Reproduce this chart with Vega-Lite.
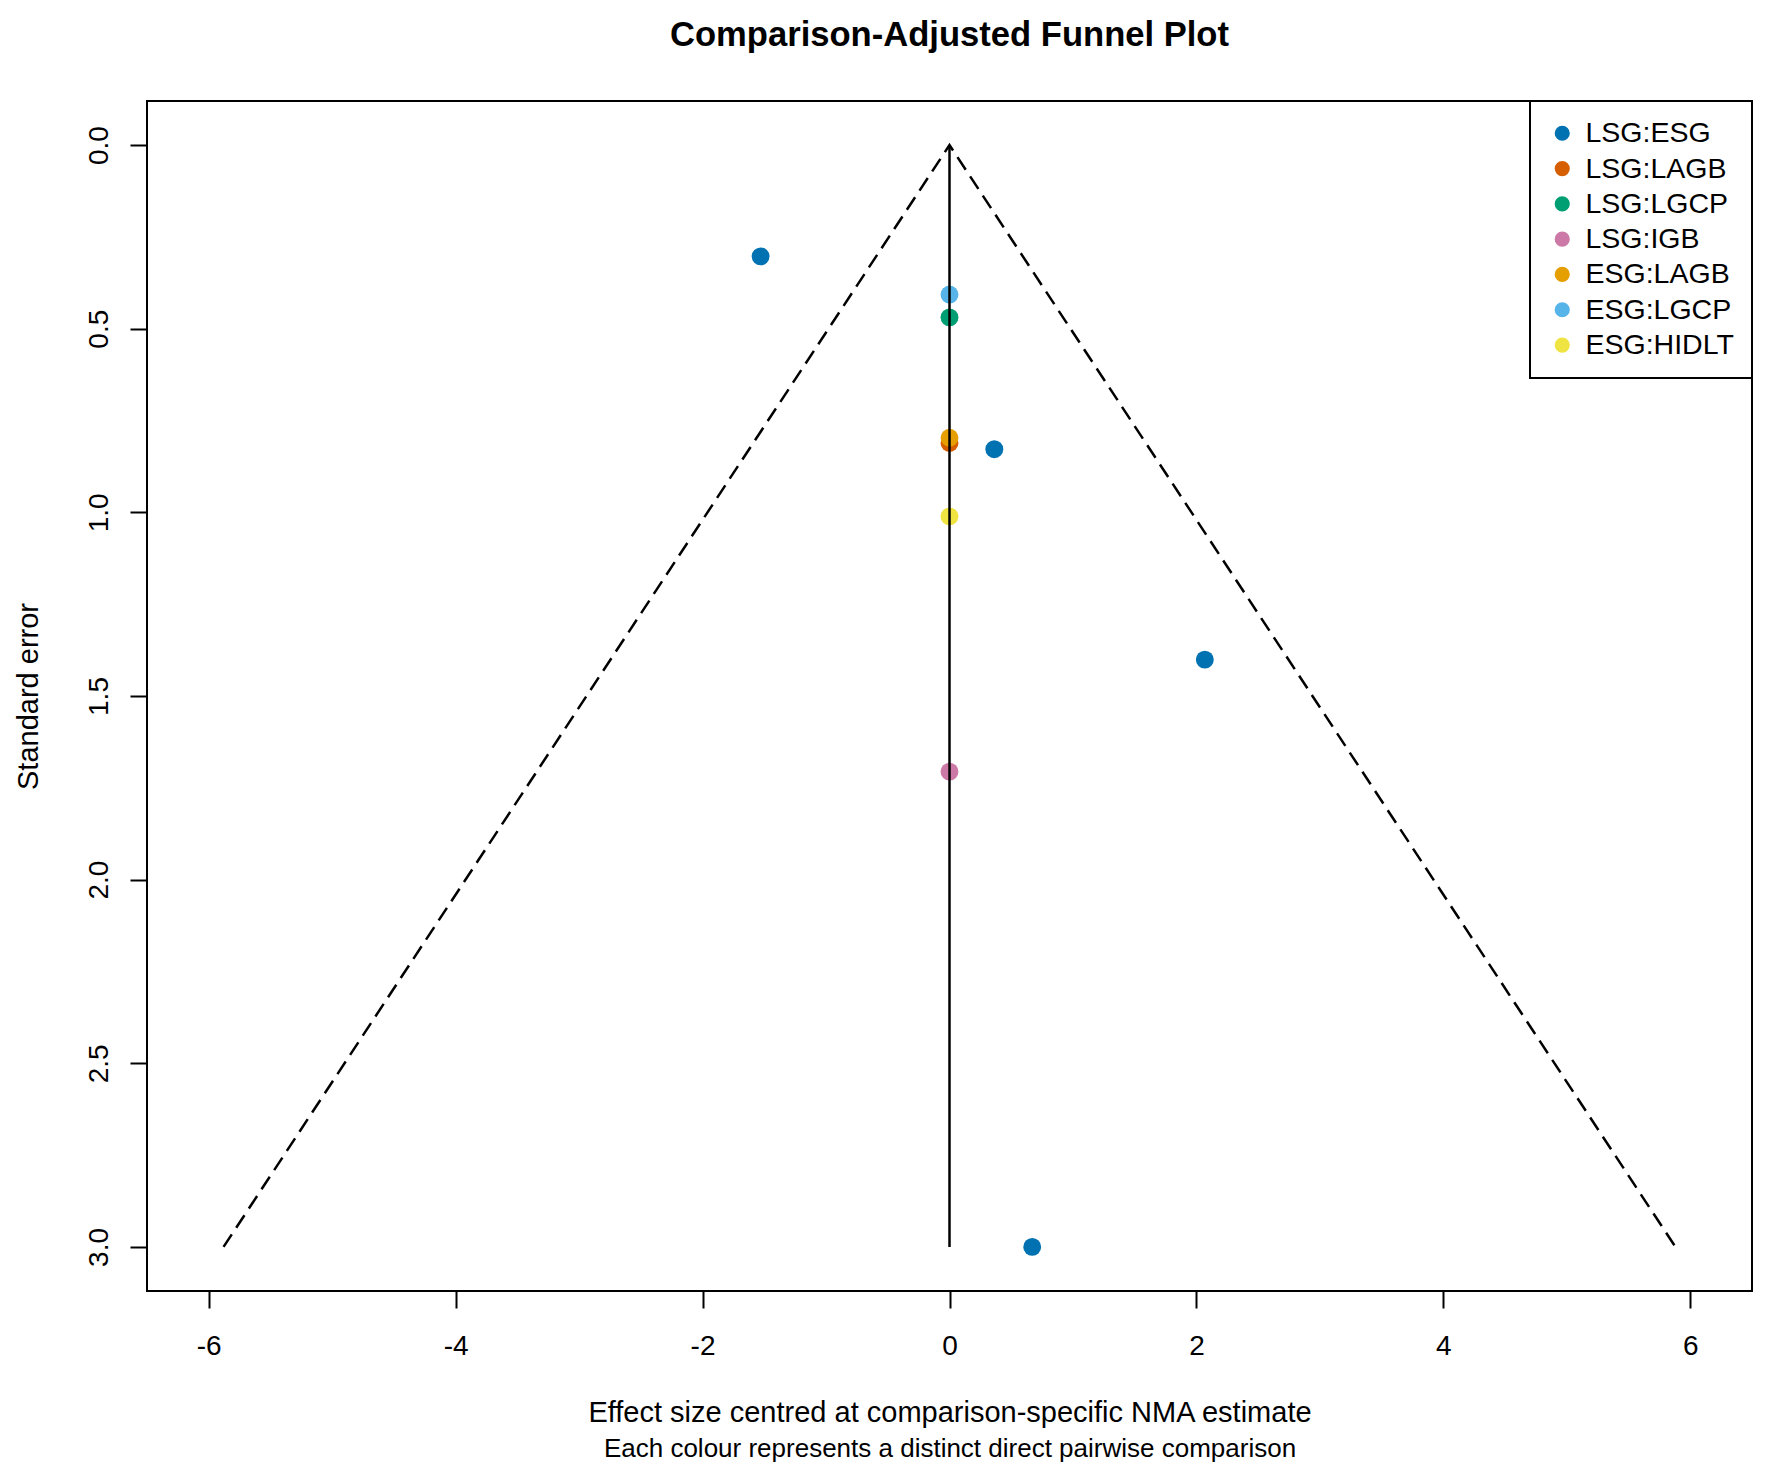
{
  "$schema": "https://vega.github.io/schema/vega-lite/v6.json",
  "autosize": {"type": "none"},
  "padding": {"left": 147, "top": 101, "right": 20, "bottom": 183},
  "width": 1605,
  "height": 1190,
  "background": "white",
  "title": {
    "text": "Comparison-Adjusted Funnel Plot",
    "fontSize": 34.6,
    "fontWeight": "bold",
    "color": "black",
    "anchor": "middle",
    "baseline": "alphabetic",
    "offset": 19
  },
  "datasets": {
    "studies": [
      {"comparison": "LSG:ESG", "effect": -1.53, "se": 0.303},
      {"comparison": "LSG:ESG", "effect": 0.363, "se": 0.828},
      {"comparison": "LSG:ESG", "effect": 2.068, "se": 1.401},
      {"comparison": "LSG:ESG", "effect": 0.67, "se": 3.0},
      {"comparison": "LSG:LAGB", "effect": 0, "se": 0.811},
      {"comparison": "LSG:LGCP", "effect": 0, "se": 0.469},
      {"comparison": "LSG:IGB", "effect": 0, "se": 1.706},
      {"comparison": "ESG:LAGB", "effect": 0, "se": 0.797},
      {"comparison": "ESG:LGCP", "effect": 0, "se": 0.407},
      {"comparison": "ESG:HIDLT", "effect": 0, "se": 1.011}
    ],
    "funnel": [
      {"effect": -5.88, "se": 3.0, "step": 1},
      {"effect": 0, "se": 0, "step": 2},
      {"effect": 5.88, "se": 3.0, "step": 3}
    ],
    "centre": [
      {"effect": 0, "se": 0, "se_end": 3.0}
    ]
  },
  "config": {
    "font": "Liberation Sans",
    "view": {"stroke": "black", "strokeWidth": 2},
    "axis": {
      "grid": false,
      "domain": false,
      "tickColor": "black",
      "tickWidth": 2,
      "tickSize": 17,
      "labelColor": "black",
      "labelFontSize": 28,
      "titleColor": "black",
      "titleFontSize": 29,
      "titleFontWeight": "normal"
    },
    "legend": {
      "orient": "top-right",
      "offset": 0,
      "padding": 18,
      "strokeColor": "black",
      "strokeWidth": 2,
      "fillColor": "white",
      "labelFontSize": 28.5,
      "labelColor": "black",
      "symbolSize": 230,
      "symbolType": "circle",
      "symbolStrokeWidth": 0,
      "rowPadding": 6.3,
      "labelOffset": 9
    }
  },
  "layer": [
    {
      "data": {"name": "studies"},
      "mark": {"type": "point", "filled": true, "opacity": 1, "size": 320},
      "encoding": {
        "x": {
          "field": "effect",
          "type": "quantitative",
          "scale": {"domain": [-6.5, 6.5], "nice": false, "zero": false},
          "axis": {
            "orient": "bottom",
            "values": [-6, -4, -2, 0, 2, 4, 6],
            "labelExpr": "datum.value < 0 ? '-' + abs(datum.value) : '' + datum.value",
            "labelPadding": 24,
            "title": "Effect size centred at comparison-specific NMA estimate",
            "titlePadding": 38
          }
        },
        "y": {
          "field": "se",
          "type": "quantitative",
          "scale": {"domain": [-0.12, 3.12], "nice": false, "zero": false, "reverse": true},
          "axis": {
            "values": [0, 0.5, 1, 1.5, 2, 2.5, 3],
            "format": ".1f",
            "labelAngle": -90,
            "labelAlign": "center",
            "labelBaseline": "bottom",
            "labelPadding": 17,
            "title": "Standard error",
            "titlePadding": 42
          }
        },
        "color": {
          "field": "comparison",
          "type": "nominal",
          "title": null,
          "scale": {
            "domain": ["LSG:ESG", "LSG:LAGB", "LSG:LGCP", "LSG:IGB", "ESG:LAGB", "ESG:LGCP", "ESG:HIDLT"],
            "range": ["#0072B2", "#D55E00", "#009E73", "#CC79A7", "#E69F00", "#56B4E9", "#F0E442"]
          }
        }
      }
    },
    {
      "data": {"name": "funnel"},
      "mark": {"type": "line", "color": "black", "strokeWidth": 2.5, "strokeDash": [15, 8]},
      "encoding": {
        "x": {
          "field": "effect",
          "type": "quantitative",
          "scale": {"domain": [-6.5, 6.5], "nice": false, "zero": false},
          "axis": {
            "orient": "bottom",
            "labels": false,
            "ticks": false,
            "domain": false,
            "title": "Each colour represents a distinct direct pairwise comparison",
            "titleFontSize": 26,
            "titlePadding": 144
          }
        },
        "y": {"field": "se", "type": "quantitative"},
        "order": {"field": "step"}
      }
    },
    {
      "data": {"name": "centre"},
      "mark": {"type": "rule", "color": "black", "strokeWidth": 2.5},
      "encoding": {
        "x": {"field": "effect", "type": "quantitative", "axis": null, "scale": {"domain": [-6.5, 6.5], "nice": false, "zero": false}},
        "y": {"field": "se", "type": "quantitative"},
        "y2": {"field": "se_end"}
      }
    }
  ],
  "resolve": {"scale": {"x": "independent"}, "axis": {"x": "independent"}}
}
